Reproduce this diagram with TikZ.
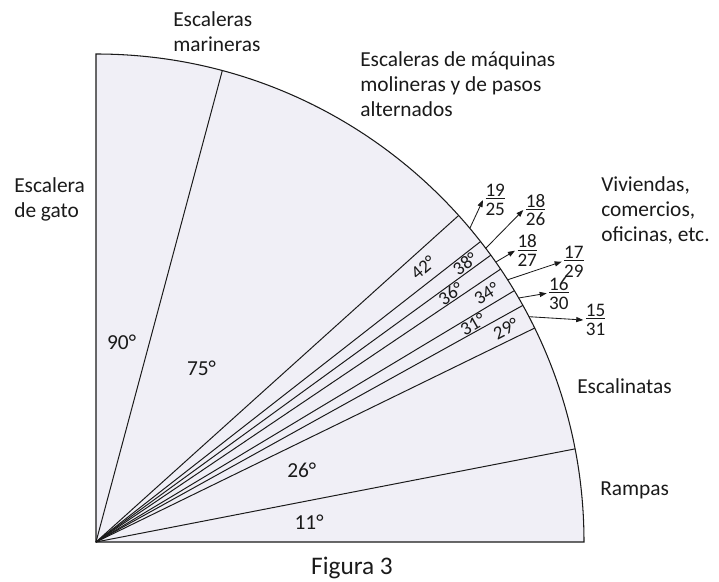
\documentclass[tikz,border=0pt]{standalone}
\usepackage{fontspec}
\setmainfont{Carlito}
\usetikzlibrary{arrows.meta}
\definecolor{sectorfill}{HTML}{F0EFF6}
\definecolor{ink}{HTML}{1A1A1A}

\begin{document}
\begin{tikzpicture}[x=.025cm,y=.025cm,
  lbl/.style={inner sep=0pt,font=\fontsize{15.2}{17.8}\selectfont,text=ink},
  small/.style={inner sep=0pt,font=\fontsize{13.4}{15}\selectfont,text=ink},
  txt/.style={lbl,align=left,anchor=west},
  fracnode/.style={inner sep=1.6pt,anchor=west,align=center,font=\fontsize{13.6}{13.4}\selectfont,text=ink},
  pointer/.style={-{Triangle[length=5pt,width=3.6pt]},line width=.6pt,draw=ink}]
\useasboundingbox (-96,-39) rectangle (623,542);
\coordinate (O) at (0,0);
\filldraw[fill=sectorfill,draw=ink,line width=.75pt] (O) -- (488,0) arc (0:90:488) -- cycle;
\foreach \a in {11,26,29,31,34,36,38,42,75}
 \draw[ink,line width=.7pt] (O) -- (\a:488);
\foreach \t/\a/\r in {90/82.7/201,75/58.7/203,26/19.3/218,11/5.4/214}
 \node[lbl] (ang\t) at (\a:\r) {\t°};
\foreach \t/\a/\r in {42/40/427,38/37/462,36/35/433,34/32.5/463,31/30/435,29/27.5/462}
 \node[small,rotate=\a] (ang\t) at (\a:\r) {\t°};
\foreach \n/\a/\tx/\ty/\num/\den in {a/40/387/342/19/25,b/37/427.3/332/18/26,c/35/419/291.3/18/27,
  d/32.5/465.7/280.3/17/29,e/30/450.7/248.7/16/30,f/27.5/487.3/222/15/31} {
 \coordinate (s\n) at (\a:488);
 \node[fracnode] (f\n) at (\tx,\ty) {\underline{\num}\\\den};
 \draw[pointer] (s\n) -- (f\n.west);}
\node[txt] (marineras) at (77,510) {Escaleras\\marineras};
\node[txt] (molineras) at (264,458) {Escaleras de máquinas\\molineras y de pasos\\alternados};
\node[txt] (gato) at (-82,343) {Escalera\\de gato};
\node[txt] (viviendas) at (505,331.5) {Viviendas,\\comercios,\\oficinas, etc.};
\node[txt] (escalinatas) at (481,156) {Escalinatas};
\node[txt] (rampas) at (504,52) {Rampas};
\node[lbl,font=\fontsize{18}{20}\selectfont] (caption) at (256,-26) {Figura 3};
\end{tikzpicture}
\end{document}
